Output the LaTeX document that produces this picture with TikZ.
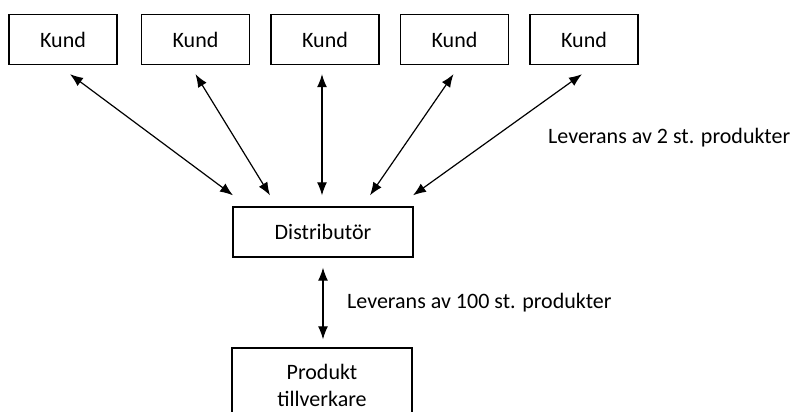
\documentclass[tikz,border=0pt]{standalone}
\usepackage{fontspec}
\setmainfont{Carlito}
\usetikzlibrary{arrows.meta}
\newcommand{\diagfont}{\fontsize{22}{26}\selectfont}
\tikzset{
 box/.style={draw, line width=1.3pt, minimum width=108pt, minimum height=50pt, inner sep=0pt, font=\diagfont},
 widebox/.style={box, minimum width=180pt},
 link/.style={line width=1.2pt, {Latex[length=13pt,width=10pt]}-{Latex[length=13pt,width=10pt]}},
 label/.style={anchor=west, inner sep=0pt, font=\diagfont},
 }

\begin{document}
\begin{tikzpicture}[x=1pt,y=-1pt]
        \useasboundingbox (0,0) rectangle (796,412);
        \node[box] (k1) at (63,39.5) {Kund};
        \node[box] (k2) at (195.5,39.5) {Kund};
        \node[box] (k3) at (325,39.5) {Kund};
        \node[box] (k4) at (454.5,39.5) {Kund};
        \node[box] (k5) at (584,39.5) {Kund};
        \node[widebox] (dist) at (323,232) {Distribut\"or};
        \node[widebox, minimum height=75pt, align=center] (prod) at (322,385.5) {Produkt\\[1pt]tillverkare};
        % arrows to the customers
        \draw[link] ([xshift=7pt,yshift=-9pt]k1.south) -- ([xshift=-90pt,yshift=11pt]dist.north);
        \draw[link] ([yshift=-9pt]k2.south) -- ([xshift=-53pt,yshift=11pt]dist.north);
        \draw[link] ([xshift=-3pt,yshift=-9pt]k3.south) -- ([xshift=-1pt,yshift=11pt]dist.north);
        \draw[link] ([xshift=-1pt,yshift=-9pt]k4.south) -- ([xshift=47pt,yshift=11pt]dist.north);
        \draw[link] ([xshift=-2pt,yshift=-9pt]k5.south) -- ([xshift=90pt,yshift=11pt]dist.north);
        \draw[link] ([yshift=-10pt]dist.south) -- ([xshift=1pt,yshift=8pt]prod.north);
        \node[label] (lev2) at (548,138) {Leverans av 2 st. produkter};
        \node[label] (lev100) at (347,303) {Leverans av 100 st. produkter};
    \end{tikzpicture}
\end{document}
